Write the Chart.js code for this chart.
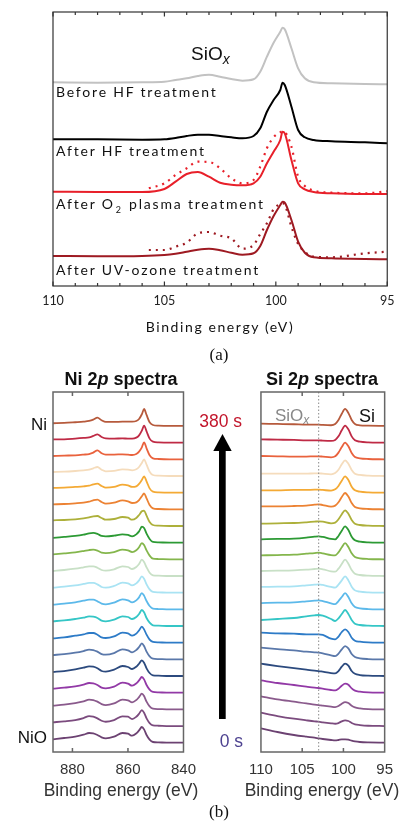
<!DOCTYPE html>
<html>
<head>
<meta charset="utf-8">
<script src="https://cdn.jsdelivr.net/npm/chart.js@4.4.1/dist/chart.umd.min.js"></script>
<style>
  html, body { margin: 0; padding: 0; background: #fff; }
  #page { position: relative; width: 402px; height: 827px; overflow: hidden; }
  canvas { position: absolute; }
  .lbl { position: absolute; white-space: nowrap; line-height: 1; }
  .cal { font-family: Lato, sans-serif; font-size: 14px; letter-spacing: 1.8px; color: #111; }
  .ar { font-family: "Liberation Sans", Arial, sans-serif; }
  .serif { font-family: "Liberation Serif", "Times New Roman", serif; font-size: 17px; color: #111; }
</style>
</head>
<body>
<div id="page">
  <canvas id="chart-a" width="402" height="345" style="left:0;top:0;width:402px;height:345px"></canvas>
  <canvas id="chart-ni" width="205" height="395" style="left:0;top:388px;width:205px;height:395px"></canvas>
  <canvas id="chart-si" width="162" height="395" style="left:240px;top:388px;width:162px;height:395px"></canvas>

  <svg style="position:absolute;left:0;top:0" width="402" height="827">
    <polygon points="213.3,451 231.7,451 222.5,434" fill="#000"/>
    <rect x="219" y="450" width="6.7" height="269" fill="#000"/>
  </svg>

  <!-- panel (a) -->
  <div class="lbl ar" style="left:191px;top:44px;font-size:19px;color:#111">SiO<i style="font-size:14px;position:relative;top:4px">x</i></div>
  <div class="lbl cal" style="left:56px;top:85px">Before HF treatment</div>
  <div class="lbl cal" style="left:56px;top:143.5px">After HF treatment</div>
  <div class="lbl cal" style="left:56px;top:197px">After O<span style="font-size:9px;position:relative;top:4px;padding:0 1px">2</span> plasma treatment</div>
  <div class="lbl cal" style="left:56px;top:262.5px">After UV-ozone treatment</div>
  <div class="lbl cal" style="left:0;width:440px;text-align:center;top:319.5px;letter-spacing:1.6px">Binding energy (eV)</div>
  <div class="lbl serif" style="left:0;width:438px;text-align:center;top:345.5px">(a)</div>

  <!-- panel (b) -->
  <div class="lbl ar" style="left:0;width:242px;text-align:center;top:370px;font-size:18px;font-weight:bold;color:#111">Ni 2<i>p</i> spectra</div>
  <div class="lbl ar" style="left:0;width:644px;text-align:center;top:370px;font-size:18px;font-weight:bold;color:#111">Si 2<i>p</i> spectra</div>
  <div class="lbl ar" style="right:355px;top:416px;font-size:17px;color:#111">Ni</div>
  <div class="lbl ar" style="right:355px;top:729px;font-size:17px;color:#111">NiO</div>
  <div class="lbl ar" style="left:275px;top:406.5px;font-size:17px;color:#888">SiO<i style="font-size:12px;position:relative;top:3px">x</i></div>
  <div class="lbl ar" style="left:359px;top:406.5px;font-size:18px;color:#111">Si</div>
  <div class="lbl ar" style="right:160px;top:413px;font-size:17.5px;color:#c2162c">380 s</div>
  <div class="lbl ar" style="right:159px;top:733px;font-size:17.5px;color:#4d4290">0 s</div>
  <div class="lbl ar" style="left:0;width:242px;text-align:center;top:782px;font-size:17.5px;color:#333">Binding energy (eV)</div>
  <div class="lbl ar" style="left:0;width:644px;text-align:center;top:782px;font-size:17.5px;color:#333">Binding energy (eV)</div>
  <div class="lbl serif" style="left:0;width:438px;text-align:center;top:802.5px">(b)</div>
</div>

<script>
// ---------- panel (a): Si 2p after surface treatments (stacked, a.u.) ----------
const ENERGY_A = [110, 108, 106, 105, 104.5, 104, 103.5, 103, 102.5, 102, 101.5, 101, 100.7, 100.4, 100.1, 99.8, 99.7, 99.6, 99.3, 99, 98.7, 98.3, 97.5, 96, 95];
const ENERGY_A_DOT = [105.7, 105, 104.5, 104, 103.5, 103, 102.5, 102, 101.5, 101, 100.7, 100.4, 100.1, 99.8, 99.7, 99.6, 99.3, 99, 98.7, 98.3, 97.5, 96, 95];
const TICKS_A = [110, 105, 100, 95];
const MINOR_A = [109, 108, 107, 106, 104, 103, 102, 101, 99, 98, 97, 96];

const beforeHF = [203.7, 203.3, 203.7, 204.3, 206, 207.7, 210, 211.3, 209.3, 207, 205.3, 206.7, 214.3, 229.3, 243.3, 254.3, 258.3, 256.7, 237.7, 217.7, 207.7, 203.7, 202.7, 202, 201.7];
const afterHF = [146.7, 146.7, 146.3, 146.7, 148, 150, 151.3, 151.3, 150, 148.7, 147.7, 150, 157.7, 174.3, 186, 196, 203.3, 201, 179.3, 156, 148.7, 146, 144.7, 143.7, 142.7];
const afterO2 = [94.3, 94, 94, 97, 104.3, 112, 114, 109.3, 103.3, 101.3, 100.7, 102.7, 109.3, 122.7, 134.3, 146, 154.3, 152.7, 126, 102.7, 96.7, 94, 92.7, 92, 92];
const afterO2Dot = [97.7, 102.7, 111, 117.7, 124.3, 124, 117.7, 107.7, 102.7, 106, 119.3, 137.7, 148.7, 153.7, 154.7, 154, 139.3, 109.3, 100, 95.3, 93.3, 92.7, 94.7];
const afterUV = [30, 29.7, 30, 31, 32.3, 34.3, 36.3, 37.3, 35.7, 33.3, 31.3, 32.7, 40, 56, 70, 81, 84.3, 83.3, 66, 44.3, 33.3, 28.7, 27.7, 27, 26.7];
const afterUVDot = [36, 36, 39.3, 43.3, 52.7, 54, 50.3, 47.7, 37.3, 41, 52, 62.7, 76.7, 82, 82.7, 81.3, 59.3, 42, 34.3, 29.3, 28.7, 32.7, 34.3];

// ---------- panel (b): in-situ spectra every 20 s (intensity above each baseline) ----------
const SCAN_TIMES = [380, 360, 340, 320, 300, 280, 260, 240, 220, 200, 180, 160, 140, 120, 100, 80, 60, 40, 20, 0];
const NI_ENERGY = [887, 883, 879, 876, 874, 872.5, 871, 869.5, 868, 865, 862, 860, 858.5, 857, 856, 855, 854.2, 853.3, 852.2, 851, 849, 845, 840];
const NI_TICKS = [880, 860, 840];

const ni380 = [2.7, 3, 3.7, 4.3, 5, 6.3, 8.3, 5.7, 4, 4, 4.3, 4.3, 4.3, 5, 7, 11.7, 17, 11, 3.7, 1, 0.3, 0, 0];
const ni360 = [3.3, 3.3, 4, 4.7, 5.3, 6.7, 8.3, 5.7, 4.3, 4, 4.3, 4, 4, 5, 7.3, 12, 17, 11.3, 4, 1, 0.3, 0, 0];
const ni340 = [3.3, 3.7, 4, 4.7, 5.3, 6.7, 9, 6, 4.7, 4.7, 5, 4.7, 4.3, 5.3, 7.7, 12, 17, 11, 4, 1, 0.3, 0, 0];
const ni320 = [4, 4.3, 5, 5.7, 6.3, 7.7, 9, 6.3, 4.7, 5, 6.7, 6.3, 5.7, 6.7, 9, 13, 16.7, 11.3, 4.3, 1, 0.3, 0, 0];
const ni300 = [4.7, 5, 5.7, 6.3, 7, 8.3, 9, 6.7, 5, 5.7, 8, 7.3, 5.7, 6.3, 8.7, 12.7, 16.3, 11.3, 4.3, 1, 0.3, 0, 0];
const ni280 = [5, 5.3, 6, 6.7, 7.7, 9, 9.7, 7.3, 5.7, 6.7, 9, 8, 6.3, 7, 9.3, 13, 16, 11, 4.3, 1, 0.3, 0, 0];
const ni260 = [5.7, 6, 6.7, 7.7, 8.7, 9.7, 10, 8, 6.3, 7, 9, 8.3, 6.3, 8, 11, 14.7, 15.3, 10.3, 4, 1, 0.3, 0, 0];
const ni240 = [4.7, 5.7, 6.7, 8, 9.3, 9.7, 8.7, 6.7, 6.3, 7, 8.3, 7.7, 6.3, 8.3, 11.3, 16, 14.7, 9, 3.7, 0.7, 0.3, 0, 0];
const ni220 = [5, 6, 7, 8.3, 9.3, 9.7, 8.7, 6.7, 6.3, 7.3, 9.7, 9, 7.3, 9, 12, 16.3, 14.3, 9, 3.7, 0.7, 0.3, 0, 0];
const ni200 = [5, 6, 7.3, 8.7, 9.7, 9.7, 8.3, 6, 5.3, 6.7, 9.7, 9, 7, 9, 12, 16.3, 14, 8.7, 3.3, 0.7, 0.3, 0, 0];
const ni180 = [5, 6, 7.3, 8.7, 9.7, 9.7, 8.3, 5.7, 5, 6.7, 10, 9.3, 7.3, 9.3, 12.3, 16.3, 14, 8.3, 3.3, 0.7, 0.3, 0, 0];
const ni160 = [4.7, 5.7, 7, 8.7, 9.7, 9.7, 8, 5.7, 5, 6.7, 10, 9, 7, 9, 12, 16.3, 13.7, 8.3, 3.3, 0.7, 0.3, 0, 0];
const ni140 = [4.7, 5.7, 7, 8.3, 9.7, 9.3, 8, 5.3, 4.7, 6.3, 9.7, 9, 7, 9, 12, 16, 13.7, 8, 3.3, 0.7, 0.3, 0, 0];
const ni120 = [4.3, 5.3, 7, 8.3, 9.7, 9.7, 8, 5.3, 4.7, 6.3, 10, 9.3, 7, 9, 12.3, 16, 13.3, 8, 3, 0.7, 0.3, 0, 0];
const ni100 = [4.3, 5.3, 6.7, 8.3, 9.7, 9.3, 7.7, 5.3, 4.7, 6.3, 10, 9, 7, 9.3, 12.3, 16, 13.3, 7.7, 3, 0.7, 0.3, 0, 0];
const ni080 = [4, 5, 6.7, 8.3, 9.7, 9.3, 7.7, 5, 4.3, 6.3, 10, 9, 7, 9.3, 12.3, 15.7, 13.3, 7.7, 3, 0.7, 0.3, 0, 0];
const ni060 = [4, 5, 6.3, 8, 9.7, 9.3, 7.7, 5, 4.3, 6, 10, 9, 7, 9.3, 12.3, 15.7, 13.3, 7.7, 3, 0.7, 0.3, 0, 0];
const ni040 = [3.7, 4.7, 6.3, 8, 9.7, 9.3, 7.7, 5.3, 4.3, 6, 9.7, 9, 7, 9.3, 12.3, 15.7, 13.3, 7.7, 3, 0.7, 0.3, 0, 0];
const ni020 = [3.7, 4.7, 6, 8, 10, 9.3, 7.7, 5.3, 4.3, 6, 9.7, 9.3, 7, 9.3, 12.3, 16, 13.3, 7.7, 3, 0.7, 0.3, 0, 0];
const ni000 = [3.3, 4.7, 6, 8, 9.7, 9.3, 7.7, 5.3, 4.3, 6, 9.7, 9, 7, 9.3, 12.3, 15.7, 13.3, 7.7, 3, 0.7, 0.3, 0, 0];

const SI_ENERGY = [110, 108, 106, 104.5, 103.5, 103, 102.5, 101.5, 101, 100.6, 100.2, 99.8, 99.4, 99, 98.6, 98, 97, 95];
const SI_TICKS = [110, 105, 100, 95];
const SIOX_LINE = 103;

const si380 = [2.3, 2, 1.7, 1.3, 1.3, 1.3, 1, 0.7, 2, 6, 12.3, 17, 13, 6, 2, 0.7, 0.3, 0];
const si360 = [3.3, 3, 2.7, 2.3, 2.3, 2.3, 2, 1.7, 2.7, 6.3, 12.3, 17, 13.3, 6.3, 2.3, 1, 0.3, 0];
const si340 = [3.3, 3, 2.7, 2.7, 3, 3, 2.7, 2, 3, 6.7, 12.3, 16.7, 13, 6.3, 2.3, 1, 0.3, 0];
const si320 = [2.3, 2.3, 2.3, 2.3, 2.7, 2.7, 2.3, 1.7, 3, 6.3, 11.7, 15.7, 12.3, 6, 2.3, 1, 0.3, 0];
const si300 = [2.3, 2.3, 2.7, 2.7, 3, 3, 2.7, 2, 3.3, 6.7, 12, 16.3, 12.7, 6, 2.3, 1, 0.3, 0];
const si280 = [3, 3, 3.3, 3.7, 4.7, 5, 4.3, 2.7, 3.7, 7, 12.3, 16.3, 12.7, 6.3, 2.3, 1, 0.3, 0];
const si260 = [2.3, 2.7, 3, 3.7, 4.3, 4.7, 4.3, 2.7, 3.3, 6.7, 11.7, 15.7, 12.3, 6, 2.3, 1, 0.3, 0];
const si240 = [3.3, 3.7, 4, 5, 6, 6.3, 5.7, 3.7, 3.3, 6.7, 12, 16.3, 12.7, 6, 2.3, 1, 0.3, 0];
const si220 = [4, 4.3, 4.7, 5.7, 6.3, 6.7, 6, 4.3, 4, 7, 12, 16.3, 12.3, 6, 2.3, 1, 0.3, 0];
const si200 = [5, 5.3, 5.7, 6.3, 7, 7.3, 6.7, 4.7, 4.3, 7.3, 12, 16.3, 12.3, 6, 2.3, 1, 0.3, 0];
const si180 = [5.7, 6, 6.3, 7.3, 8, 8.3, 7.7, 5.7, 5, 8, 12.3, 16.3, 12.3, 6, 2.3, 1, 0.3, 0];
const si160 = [6.3, 6.7, 7, 8, 8.7, 9, 8.3, 6, 5.3, 8.3, 12.3, 16.3, 12.3, 6, 2.3, 1, 0.3, 0];
const si140 = [6, 7, 8, 9.7, 10.7, 11, 10.3, 7, 5, 7.7, 12, 16, 12, 6, 2.3, 1, 0.3, 0];
const si120 = [10, 9.3, 9, 8.3, 8.3, 8.3, 7.7, 4, 3.3, 6, 10.7, 13.3, 10.7, 5, 2, 1, 0.3, 0];
const si100 = [11.7, 10.3, 9, 7.7, 7, 6.7, 6, 4, 3.3, 5.7, 10, 13.3, 11, 5.3, 2.3, 1, 0.3, 0];
const si080 = [12.3, 10, 8, 6.3, 5.3, 5, 4.3, 3, 2.7, 5, 9.3, 12.3, 10.3, 5, 2.3, 1, 0.3, 0];
const si060 = [12.3, 9.7, 7.7, 6, 5, 4.7, 4, 2.7, 2.3, 4, 7, 9, 8, 4.3, 2, 1, 0.3, 0];
const si040 = [13, 10, 7.7, 6, 4.7, 4.3, 3.7, 2.7, 2.3, 3.3, 5.7, 7.3, 6.3, 3.7, 2, 1, 0.3, 0];
const si020 = [13.3, 10, 7.3, 5.7, 4.7, 4.3, 3.7, 2.7, 2.3, 3, 4.7, 5.7, 5, 3, 1.7, 1, 0.3, 0];
const si000 = [14.3, 10.7, 7.7, 6, 5, 4.3, 3.7, 2.7, 2.3, 2.7, 3.3, 3.3, 3, 2, 1.3, 0.7, 0.3, 0];

const NI_SERIES = [ni380, ni360, ni340, ni320, ni300, ni280, ni260, ni240, ni220, ni200, ni180, ni160, ni140, ni120, ni100, ni080, ni060, ni040, ni020, ni000];
const SI_SERIES = [si380, si360, si340, si320, si300, si280, si260, si240, si220, si200, si180, si160, si140, si120, si100, si080, si060, si040, si020, si000];

const TRACE_COLORS = ["#b65a3c", "#bf2a45", "#e9623d", "#f5dcbc", "#f4aa35", "#ec8233", "#adb03a", "#2c9a34",
  "#84b64c", "#c8e0c6", "#a9e3f3", "#5cb9ea", "#35c6c6", "#2d7bc7", "#5a78aa", "#2c4a7e",
  "#9239a6", "#8a5a8c", "#7b4b7e", "#6c4272"];

// stacking of the time series inside panel (b)
const STACK_BASE = 9.3;
const STACK_STEP = 16.67;

// frame + inward ticks, drawn from the x scale
const framePlugin = {
  id: "frame",
  afterDatasetsDraw(chart, args, opts) {
    const { ctx, chartArea: a } = chart;
    const x = chart.scales.x;
    ctx.save();
    if (opts.guide != null) {
      const gx = x.getPixelForValue(opts.guide);
      ctx.strokeStyle = "#8a8a8a";
      ctx.lineWidth = 1;
      ctx.setLineDash([1.5, 2]);
      ctx.beginPath();
      ctx.moveTo(gx, a.top);
      ctx.lineTo(gx, a.bottom);
      ctx.stroke();
      ctx.setLineDash([]);
    }
    ctx.strokeStyle = opts.color;
    ctx.lineWidth = opts.width;
    ctx.strokeRect(a.left, a.top, a.right - a.left, a.bottom - a.top);
    const tick = (v, len) => {
      const px = x.getPixelForValue(v);
      ctx.moveTo(px, a.top);
      ctx.lineTo(px, a.top + len);
      ctx.moveTo(px, a.bottom);
      ctx.lineTo(px, a.bottom - len);
    };
    ctx.beginPath();
    (opts.minor || []).forEach((v) => tick(v, opts.minorLen));
    (opts.major || []).forEach((v) => tick(v, opts.majorLen));
    ctx.stroke();
    ctx.restore();
  },
};

const xAxis = (min, max, ticks, font, color, padding, height) => ({
  type: "linear",
  min,
  max,
  reverse: true,
  grid: { display: false, drawTicks: false },
  border: { display: false },
  afterBuildTicks: (scale) => {
    scale.ticks = ticks.map((value) => ({ value }));
  },
  afterFit: (scale) => {
    scale.height = height;
  },
  ticks: { font, color, padding, maxRotation: 0, autoSkip: false },
});

const baseOptions = (layoutPadding, x, yMax, frame) => ({
  responsive: false,
  animation: false,
  events: [],
  layout: { padding: layoutPadding },
  scales: { x, y: { display: false, min: 0, max: yMax } },
  plugins: { legend: { display: false }, tooltip: { enabled: false }, frame },
  elements: { point: { radius: 0 } },
});

const line = (xs, ys, color, width, dash) => ({
  data: xs.map((e, i) => ({ x: e, y: ys[i] })),
  borderColor: color,
  borderWidth: width,
  borderDash: dash || [],
  pointRadius: 0,
  cubicInterpolationMode: "monotone",
  fill: false,
});

// panel (a)
new Chart(document.getElementById("chart-a"), {
  type: "line",
  data: {
    datasets: [
      line(ENERGY_A, beforeHF, "#c2c2c2", 2),
      line(ENERGY_A, afterHF, "#000000", 2),
      line(ENERGY_A_DOT, afterO2Dot, "#e8202a", 2.2, [2, 5]),
      line(ENERGY_A, afterO2, "#e8202a", 2),
      line(ENERGY_A_DOT, afterUVDot, "#9e1a22", 2.2, [2, 5]),
      line(ENERGY_A, afterUV, "#9e1a22", 2),
    ],
  },
  options: baseOptions(
    { left: 53, right: 12, top: 12, bottom: 0 },
    xAxis(95, 110, TICKS_A, { family: "Lato", size: 12.5 }, "#222", 7.5, 59),
    274,
    { color: "#333", width: 1.2, major: TICKS_A, minor: MINOR_A, majorLen: 4.5, minorLen: 3 }
  ),
  plugins: [framePlugin],
});

const stacked = (energy, series) =>
  series.map((vals, k) =>
    line(
      energy,
      vals.map((v) => v + STACK_BASE + (series.length - 1 - k) * STACK_STEP),
      TRACE_COLORS[k],
      1.8
    )
  );

const panelFont = { family: "Liberation Sans", size: 15 };

// panel (b), Ni 2p
new Chart(document.getElementById("chart-ni"), {
  type: "line",
  data: { datasets: stacked(NI_ENERGY, NI_SERIES) },
  options: baseOptions(
    { left: 53, right: 15, top: 4, bottom: 0 },
    xAxis(840, 887, NI_TICKS, panelFont, "#333", 9, 31),
    360,
    { color: "#666", width: 1.5, major: [880, 860], majorLen: 4 }
  ),
  plugins: [framePlugin],
});

// panel (b), Si 2p
new Chart(document.getElementById("chart-si"), {
  type: "line",
  data: { datasets: stacked(SI_ENERGY, SI_SERIES) },
  options: baseOptions(
    { left: 14, right: 11, top: 4, bottom: 0 },
    xAxis(95, 110, SI_TICKS, panelFont, "#333", 9, 31),
    360,
    { color: "#666", width: 1.5, major: [105, 100], majorLen: 4, guide: SIOX_LINE }
  ),
  plugins: [framePlugin],
});
</script>
</body>
</html>
